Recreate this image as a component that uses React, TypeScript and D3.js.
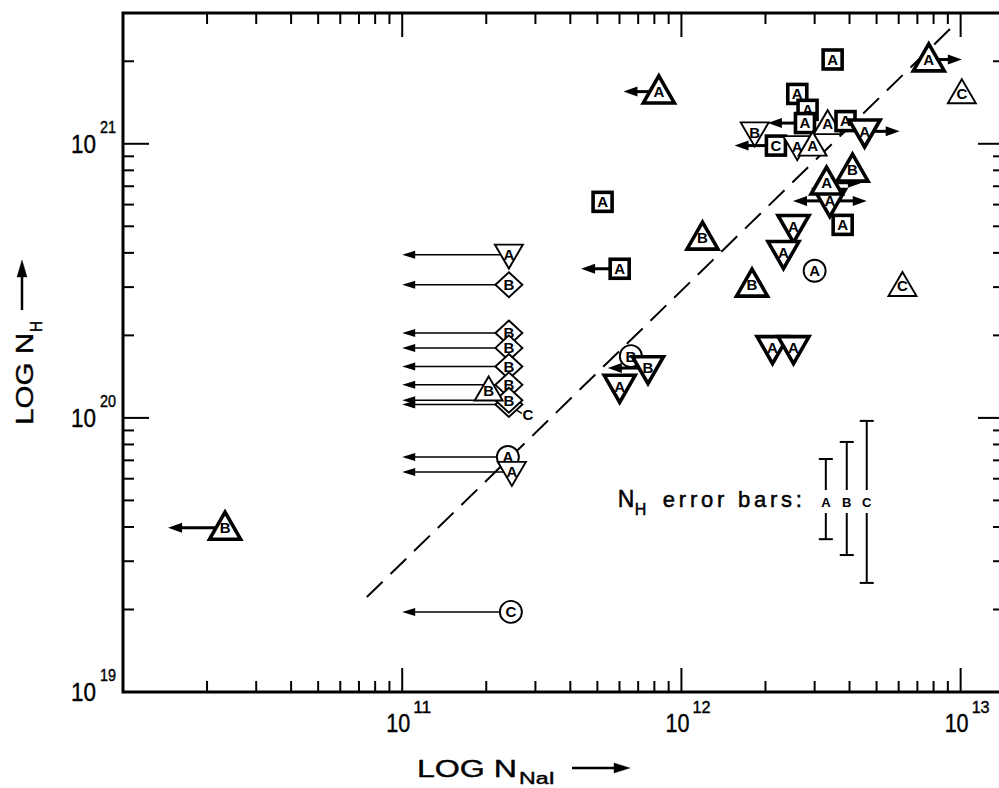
import { useEffect, useRef } from "react";
import * as d3 from "d3";

type Star = {
  x: number; // N(NaI)
  y: number; // N(H)
  shape: "up" | "down" | "square" | "circle" | "diamond";
  label: string;
  heavy?: boolean;
  lo?: number; // arrow tip to the left (upper limit)
  hi?: number; // arrow tip to the right (lower limit)
  callout?: boolean;
};

const W = 999;
const H = 788;
const FONT = "'Liberation Sans', 'DejaVu Sans', sans-serif";

const xMajorExps = [11, 12, 13];
const yMajorExps = [19, 20, 21];

// stars with N(NaI) upper limits, all drawn back to 10^11
const columnLimit = 1e11;
const columnPoints: Star[] = [
  { x: 2.41e11, y: 3.94e20, shape: "down", label: "A" },
  { x: 2.41e11, y: 3.06e20, shape: "diamond", label: "B" },
  { x: 2.41e11, y: 2.04e20, shape: "diamond", label: "B" },
  { x: 2.41e11, y: 1.8e20, shape: "diamond", label: "B" },
  { x: 2.41e11, y: 1.54e20, shape: "diamond", label: "B" },
  { x: 2.41e11, y: 1.32e20, shape: "diamond", label: "B" },
  { x: 2.41e11, y: 1.12e20, shape: "diamond", label: "C", callout: true },
  { x: 2.41e11, y: 1.16e20, shape: "diamond", label: "B" },
  { x: 2.39e11, y: 7.2e19, shape: "circle", label: "A" },
  { x: 2.47e11, y: 6.35e19, shape: "down", label: "A" },
  { x: 2.45e11, y: 1.96e19, shape: "circle", label: "C" },
];

const fieldPoints: Star[] = [
  { x: 2.04e11, y: 1.26e20, shape: "up", label: "B" },
  { x: 8.3e11, y: 1.55e21, shape: "up", label: "A", heavy: true, lo: 6.2e11 },
  { x: 5.22e11, y: 6.14e20, shape: "square", label: "A", heavy: true },
  { x: 6.01e11, y: 3.5e20, shape: "square", label: "A", heavy: true, lo: 4.37e11 },
  { x: 1.19e12, y: 4.54e20, shape: "up", label: "B", heavy: true },
  { x: 1.79e12, y: 3.06e20, shape: "up", label: "B", heavy: true },
  { x: 3.0e12, y: 3.44e20, shape: "circle", label: "A" },
  { x: 6.19e12, y: 3.03e20, shape: "up", label: "C" },
  { x: 2.12e12, y: 1.8e20, shape: "down", label: "A", heavy: true },
  { x: 2.52e12, y: 1.8e20, shape: "down", label: "A", heavy: true },
  { x: 2.52e12, y: 4.98e20, shape: "down", label: "A", heavy: true },
  { x: 2.32e12, y: 4.0e20, shape: "down", label: "A", heavy: true },
  { x: 3.78e12, y: 5.06e20, shape: "square", label: "A", heavy: true },
  { x: 3.4e12, y: 6.19e20, shape: "down", label: "A", heavy: true, lo: 2.51e12, hi: 4.61e12 },
  { x: 3.31e12, y: 7.21e20, shape: "up", label: "A", heavy: true, hi: 4.43e12 },
  { x: 4.1e12, y: 8.04e20, shape: "up", label: "B", heavy: true },
  { x: 7.69e12, y: 2.03e21, shape: "up", label: "A", heavy: true, hi: 1.01e13 },
  { x: 1.01e13, y: 1.53e21, shape: "up", label: "C" },
  { x: 3.48e12, y: 2.03e21, shape: "square", label: "A", heavy: true },
  { x: 6.59e11, y: 1.68e20, shape: "circle", label: "B" },
  { x: 7.59e11, y: 1.52e20, shape: "down", label: "B", heavy: true, lo: 5.45e11 },
  { x: 6.01e11, y: 1.3e20, shape: "down", label: "A", heavy: true },
  { x: 2.32e10, y: 3.97e19, shape: "up", label: "B", heavy: true, lo: 1.45e10 },
];

const clusterPoints: Star[] = [
  { x: 1.83e12, y: 1.1e21, shape: "down", label: "B" },
  { x: 2.6e12, y: 1.52e21, shape: "square", label: "A", heavy: true },
  { x: 2.83e12, y: 1.33e21, shape: "square", label: "A", heavy: true },
  { x: 2.77e12, y: 1.19e21, shape: "square", label: "A", heavy: true, lo: 2.04e12 },
  { x: 3.34e12, y: 1.18e21, shape: "up", label: "A" },
  { x: 3.87e12, y: 1.21e21, shape: "square", label: "A", heavy: true },
  { x: 4.53e12, y: 1.11e21, shape: "down", label: "A", heavy: true, hi: 6.05e12 },
  { x: 2.18e12, y: 9.85e20, shape: "square", label: "C", heavy: true, lo: 1.55e12 },
  { x: 2.6e12, y: 9.8e20, shape: "down", label: "A" },
  { x: 2.95e12, y: 9.85e20, shape: "up", label: "A" },
];

const fitLine = [
  { x: 7.47e10, y: 2.22e19 },
  { x: 9.68e12, y: 2.77e21 },
];

const errorBars = [
  { label: "A", x: 3.29e12, lo: 3.61e19, hi: 7.08e19 },
  { label: "B", x: 3.91e12, lo: 3.16e19, hi: 8.17e19 },
  { label: "C", x: 4.61e12, lo: 2.5e19, hi: 9.75e19 },
];

const App = () => {
  const ref = useRef<SVGSVGElement>(null);

  useEffect(() => {
    const svg = d3.select(ref.current);
    svg.selectAll("*").remove();

    const left = 123, right = 1004, top = 13, bottom = 692;
    const x = d3.scaleLog().domain([1e10, 1.43e13]).range([left, right]);
    const y = d3.scaleLog().domain([1e19, 3e21]).range([bottom, top]);

    const isMajor = (v: number) => Math.abs(Math.log10(v) - Math.round(Math.log10(v))) < 1e-6;
    const xt = x.ticks().filter((v) => v > 1.001e10 && v < 1.42e13);
    const yt = y.ticks().filter((v) => v > 1.001e19 && v < 2.99e21);

    // ticks, pointing inwards on all four sides
    const tk = svg.append("g").attr("stroke", "#000").attr("stroke-width", 2);
    xt.forEach((v) => {
      const len = isMajor(v) ? 24 : 11;
      tk.append("line").attr("x1", x(v)).attr("x2", x(v)).attr("y1", bottom).attr("y2", bottom - len);
      tk.append("line").attr("x1", x(v)).attr("x2", x(v)).attr("y1", top).attr("y2", top + len);
    });
    yt.forEach((v) => {
      const len = isMajor(v) ? 26 : 11;
      tk.append("line").attr("x1", left).attr("x2", left + len).attr("y1", y(v)).attr("y2", y(v));
      tk.append("line").attr("x1", right).attr("x2", right - len).attr("y1", y(v)).attr("y2", y(v));
    });

    // frame
    svg.append("path")
      .attr("d", `M${left},${top}H${right}V${bottom}H${left}Z`)
      .attr("fill", "none").attr("stroke", "#000").attr("stroke-width", 3);

    // tick labels 10^n
    const lab = svg.append("g").attr("font-family", FONT).attr("fill", "#000")
      .attr("stroke", "#000").attr("stroke-width", 0.4);
    xMajorExps.forEach((e) => {
      const px = x(Math.pow(10, e));
      lab.append("text").attr("x", px + 8).attr("y", 732).attr("text-anchor", "end")
        .attr("font-size", 26).attr("textLength", 24).attr("lengthAdjust", "spacingAndGlyphs").text("10");
      lab.append("text").attr("x", px + 11).attr("y", 713)
        .attr("font-size", 17).attr("textLength", 18).attr("lengthAdjust", "spacingAndGlyphs").text(String(e));
    });
    yMajorExps.forEach((e) => {
      const py = y(Math.pow(10, e));
      lab.append("text").attr("x", 96).attr("y", py + 9).attr("text-anchor", "end")
        .attr("font-size", 26).attr("textLength", 25).attr("lengthAdjust", "spacingAndGlyphs").text("10");
      lab.append("text").attr("x", 100).attr("y", py - 11)
        .attr("font-size", 17).attr("textLength", 16).attr("lengthAdjust", "spacingAndGlyphs").text(String(e));
    });

    // axis titles
    const xTitle = svg.append("g").attr("font-family", FONT).attr("stroke", "#000").attr("stroke-width", 0.4);
    xTitle.append("text").attr("x", 417).attr("y", 777).attr("font-size", 23)
      .attr("textLength", 100).attr("lengthAdjust", "spacingAndGlyphs").text("LOG N");
    xTitle.append("text").attr("x", 519).attr("y", 784).attr("font-size", 16)
      .attr("textLength", 36).attr("lengthAdjust", "spacingAndGlyphs").text("NaI");
    xTitle.append("line").attr("x1", 572).attr("x2", 616).attr("y1", 768).attr("y2", 768)
      .attr("stroke-width", 2.5);
    xTitle.append("path").attr("d", "M630,768L614,763L614,773Z").attr("fill", "#000");

    const yTitle = svg.append("g").attr("font-family", FONT).attr("stroke", "#000").attr("stroke-width", 0.4)
      .attr("transform", "translate(33,425) rotate(-90)");
    yTitle.append("text").attr("x", 0).attr("y", 0).attr("font-size", 23)
      .attr("textLength", 92).attr("lengthAdjust", "spacingAndGlyphs").text("LOG N");
    yTitle.append("text").attr("x", 93).attr("y", 9).attr("font-size", 16)
      .attr("textLength", 11).attr("lengthAdjust", "spacingAndGlyphs").text("H");
    yTitle.append("line").attr("x1", 115).attr("x2", 150).attr("y1", -11).attr("y2", -11)
      .attr("stroke-width", 2.5);
    yTitle.append("path").attr("d", "M165,-11L148,-16L148,-6Z").attr("fill", "#000");

    // dashed relation
    svg.append("line")
      .attr("x1", x(fitLine[0].x)).attr("y1", y(fitLine[0].y))
      .attr("x2", x(fitLine[1].x)).attr("y2", y(fitLine[1].y))
      .attr("stroke", "#000").attr("stroke-width", 2).attr("stroke-dasharray", "22,11");

    // error bar legend
    const eb = svg.append("g");
    const ax = x(errorBars[0].x);
    const txt = eb.append("g").attr("font-family", FONT).attr("stroke", "#000").attr("stroke-width", 0.5);
    txt.append("text").attr("x", ax - 208).attr("y", 507).attr("font-size", 23).text("N");
    txt.append("text").attr("x", ax - 191).attr("y", 515).attr("font-size", 16).text("H");
    txt.append("text").attr("x", ax - 163).attr("y", 507).attr("font-size", 22)
      .attr("textLength", 139).attr("lengthAdjust", "spacing").text("error bars:");
    errorBars.forEach((b) => {
      const bx = x(b.x);
      const g = eb.append("g").attr("stroke", "#000").attr("stroke-width", 2);
      g.append("line").attr("x1", bx).attr("x2", bx).attr("y1", y(b.hi)).attr("y2", y(b.lo));
      g.append("line").attr("x1", bx - 7).attr("x2", bx + 7).attr("y1", y(b.hi)).attr("y2", y(b.hi));
      g.append("line").attr("x1", bx - 7).attr("x2", bx + 7).attr("y1", y(b.lo)).attr("y2", y(b.lo));
      eb.append("rect").attr("x", bx - 6).attr("y", 490).attr("width", 12).attr("height", 23).attr("fill", "#fff");
      eb.append("text").attr("x", bx).attr("y", 507).attr("text-anchor", "middle")
        .attr("font-family", FONT).attr("font-size", 13).attr("font-weight", "bold").text(b.label);
    });

    // markers
    const drawArrow = (g: any, x0: number, x1: number, py: number, heavy: boolean) => {
      const dir = x1 < x0 ? -1 : 1;
      const hl = heavy ? 14 : 13;
      const hw = heavy ? 5 : 4;
      g.append("line").attr("x1", x0).attr("x2", x1 - dir * (hl - 2)).attr("y1", py).attr("y2", py)
        .attr("stroke", "#000").attr("stroke-width", heavy ? 3 : 1.5);
      g.append("path")
        .attr("d", `M${x1},${py}L${x1 - dir * hl},${py - hw}L${x1 - dir * hl},${py + hw}Z`)
        .attr("fill", "#000");
    };

    const drawStar = (p: Star, limit?: number) => {
      const g = svg.append("g");
      const cx = x(p.x), cy = y(p.y);
      const heavy = !!p.heavy;
      const lo = limit ?? p.lo;
      if (lo !== undefined) drawArrow(g, cx, x(lo), cy, heavy);
      if (p.hi !== undefined) drawArrow(g, cx, x(p.hi), cy, heavy);

      const sw = heavy ? 3.6 : 1.9;
      const m = g.append("g").attr("transform", `translate(${cx},${cy})`);
      const tw = heavy ? 31 : 28, th = heavy ? 27 : 24;
      if (p.shape === "up") {
        m.append("path").attr("d", `M0,${-0.58 * th}L${tw / 2},${0.42 * th}L${-tw / 2},${0.42 * th}Z`);
      } else if (p.shape === "down") {
        m.append("path").attr("d", `M${-tw / 2},${-0.42 * th}L${tw / 2},${-0.42 * th}L0,${0.58 * th}Z`);
      } else if (p.shape === "square") {
        m.append("rect").attr("x", -9.5).attr("y", -9.5).attr("width", 19).attr("height", 19);
      } else if (p.shape === "circle") {
        m.append("circle").attr("r", 11);
      } else {
        m.append("path").attr("d", "M0,-12.5L13.5,0L0,12.5L-13.5,0Z");
      }
      m.selectAll("path,rect,circle").attr("fill", "#fff").attr("stroke", "#000")
        .attr("stroke-width", sw).attr("stroke-linejoin", "miter");

      const lx = p.callout ? 19 : 0, ly = p.callout ? 10 : 0;
      if (p.callout) {
        m.append("line").attr("x1", 8).attr("y1", 6).attr("x2", 13).attr("y2", 9)
          .attr("stroke", "#000").attr("stroke-width", 1.5);
      }
      m.append("text").attr("x", lx).attr("y", ly).attr("dy", "0.36em").attr("text-anchor", "middle")
        .attr("font-family", FONT).attr("font-size", 15).attr("font-weight", "bold").text(p.label);
    };

    columnPoints.forEach((p) => drawStar(p, columnLimit));
    fieldPoints.forEach((p) => drawStar(p));
    clusterPoints.forEach((p) => drawStar(p));
  }, []);

  return (
    <svg
      ref={ref}
      width={W}
      height={H}
      style={{ position: "absolute", left: 0, top: 0, background: "#fff" }}
    />
  );
};

export default App;
